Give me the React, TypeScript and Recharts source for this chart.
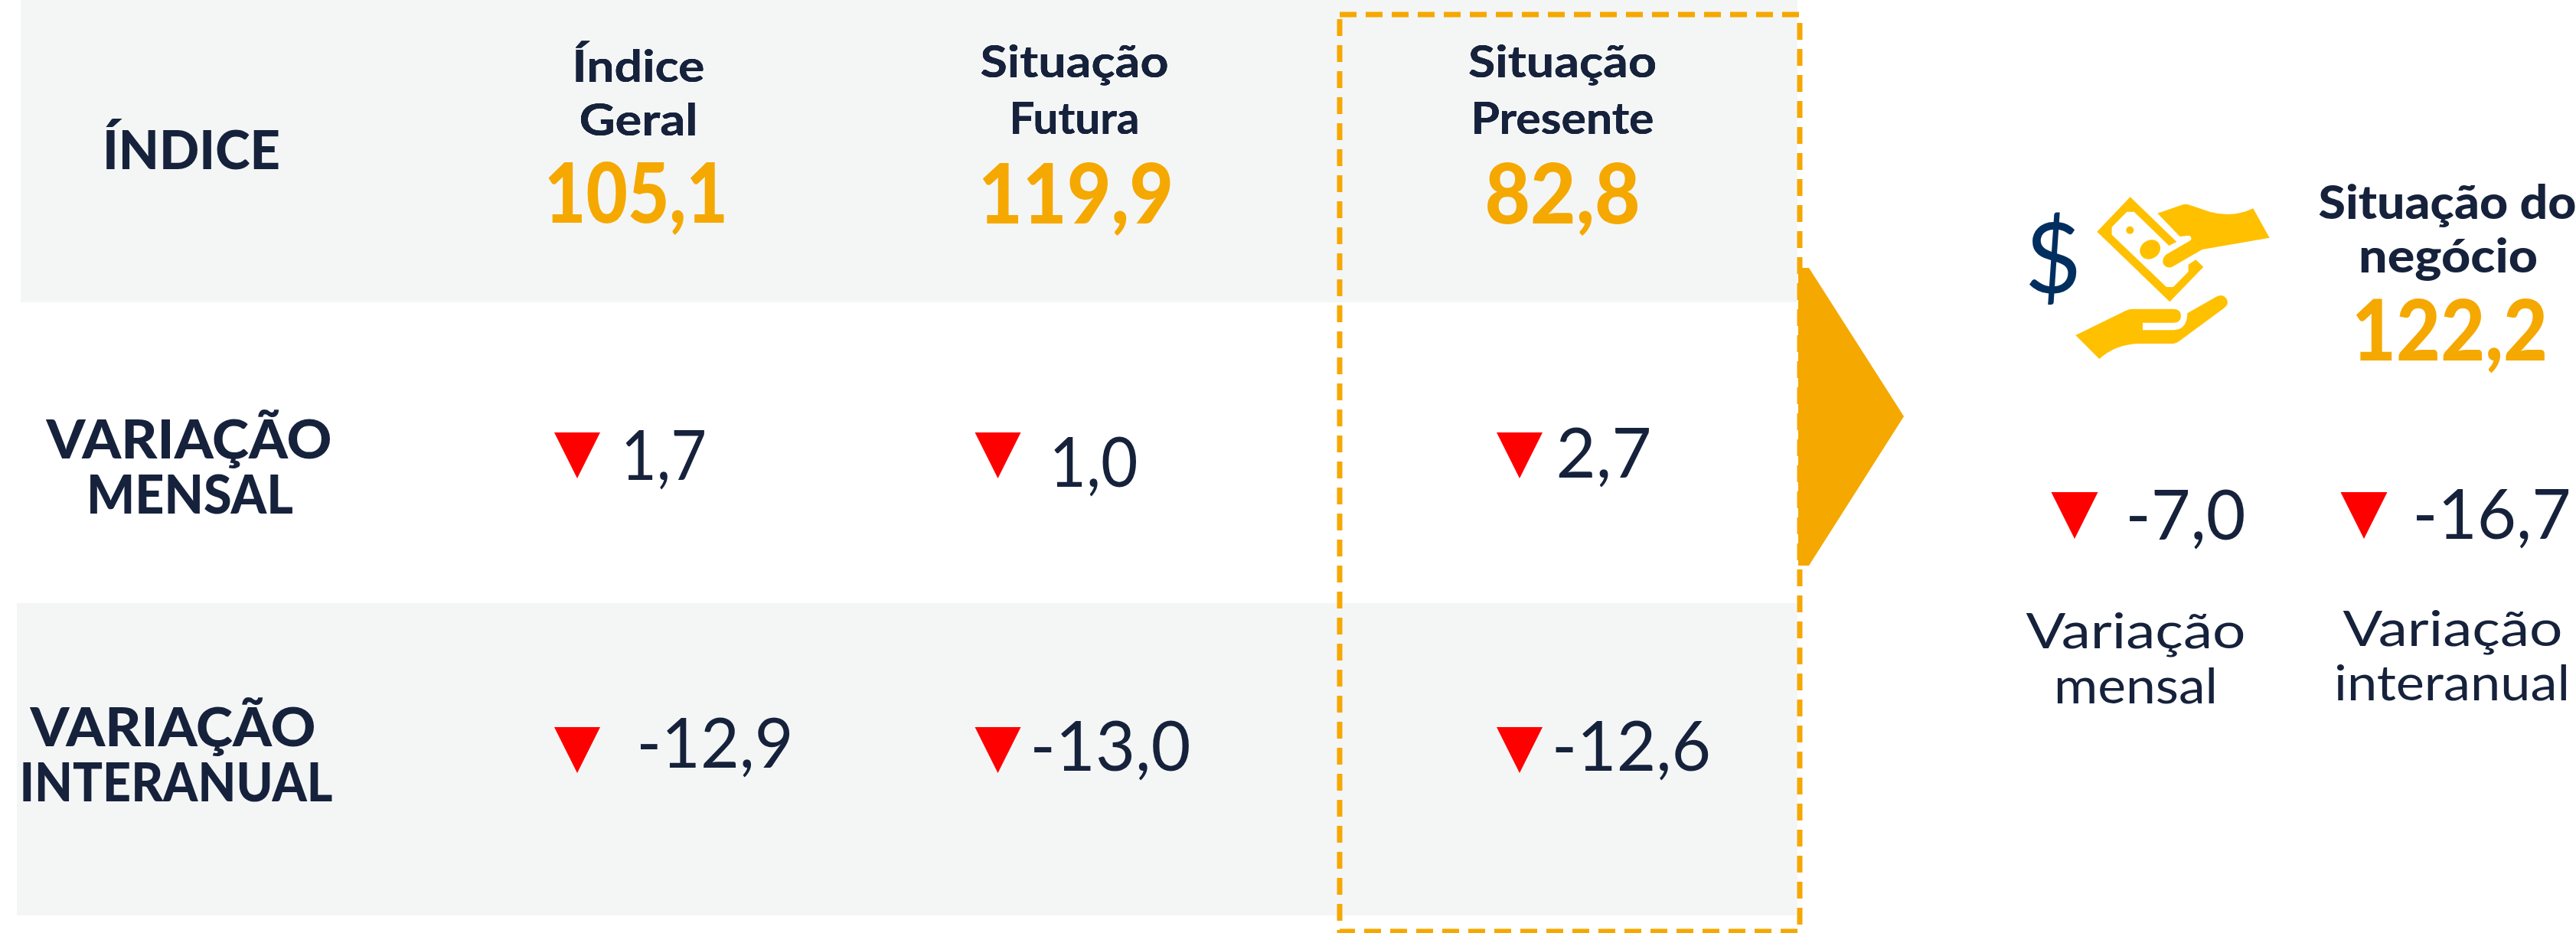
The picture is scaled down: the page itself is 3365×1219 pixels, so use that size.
import { ScatterChart, Scatter, XAxis, YAxis } from 'recharts';

const columnNames = ['Índice Geral', 'Situação Futura', 'Situação Presente'];
const rowNames = ['ÍNDICE', 'VARIAÇÃO MENSAL', 'VARIAÇÃO INTERANUAL'];
const indexValues = [105.1, 119.9, 82.8];
const monthlyValues = [1.7, 1.0, 2.7];
const yearlyValues = [-12.9, -13.0, -12.6];

const sideColumns = ['Variação mensal', 'Variação interanual'];
const sideRows = ['Situação do negócio', 'Variação'];
const sideIndex = [122.2];
const sideChanges = [-7.0, -16.7];

const NAVY = '#16223b';
const AMBER = '#f5a800';
const RED = '#ff0000';
const BAND = '#f4f6f6';
const FONT = 'Lato, sans-serif';

const WIDTH = 3365;
const HEIGHT = 1219;

const fmt = (v: number) => v.toFixed(1).replace('.', ',');

// nudges of the hand placed labels, the source slide is not aligned
const columnNudge = [0, -34, 0];
const headerLines = [
  [{ t: 'Índice', w: 173, y: 107 }, { t: 'Geral', w: 155, y: 177 }],
  [{ t: 'Situação', w: 246, y: 101 }, { t: 'Futura', w: 170, y: 175 }],
  [{ t: 'Situação', w: 246, y: 101 }, { t: 'Presente', w: 239, y: 175 }],
];
const rowLines = [
  [{ t: 'ÍNDICE', w: 232, x: 250, dy: 26 }],
  [{ t: 'VARIAÇÃO', w: 373, x: 247, dy: 9 }, { t: 'MENSAL', w: 270, x: 248, dy: 81 }],
  [{ t: 'VARIAÇÃO', w: 373, x: 226, dy: -10 }, { t: 'INTERANUAL', w: 409, x: 230, dy: 62 }],
];
const indexLayout = [
  { dx: -3, w: 240, dy: 96 },
  { dx: 2, w: 255, dy: 97 },
  { dx: 0, w: 203, dy: 97 },
];
const changeLayout: Record<string, { tri: number; triY: number; dx: number; w: number; dy: number }[]> = {
  'VARIAÇÃO MENSAL': [
    { tri: -80, triY: -25, dx: 33, w: 112, dy: 37 },
    { tri: -100, triY: -25, dx: 25, w: 116, dy: 46 },
    { tri: -56, triY: -25, dx: 54, w: 125, dy: 34 },
  ],
  'VARIAÇÃO INTERANUAL': [
    { tri: -80, triY: -35, dx: 100, w: 205, dy: 18 },
    { tri: -100, triY: -35, dx: 47, w: 210, dy: 22 },
    { tri: -56, triY: -35, dx: 90, w: 208, dy: 22 },
  ],
};
const sideChangeLayout = [
  { tri: -80, dx: 65, w: 157, dy: 25 },
  { tri: -116, dx: 51, w: 207, dy: 24 },
];
const sideCaptions = [
  [{ t: 'Variação', w: 287, dx: 0, y: 847 }, { t: 'mensal', w: 214, dx: 0, y: 919 }],
  [{ t: 'Variação', w: 287, dx: 0, y: 844 }, { t: 'interanual', w: 308, dx: -1, y: 915 }],
];

const mainData = [
  ...columnNames.map((column, i) => ({ column, row: rowNames[0], value: indexValues[i], i })),
  ...columnNames.map((column, i) => ({ column, row: rowNames[1], value: monthlyValues[i], i })),
  ...columnNames.map((column, i) => ({ column, row: rowNames[2], value: yearlyValues[i], i })),
];
const sideData = [
  { column: sideColumns[0], row: sideRows[1], value: sideChanges[0], i: 0 },
  { column: sideColumns[1], row: sideRows[0], value: sideIndex[0], i: 1 },
  { column: sideColumns[1], row: sideRows[1], value: sideChanges[1], i: 1 },
];

function Label({ x, y, t, size, w, weight = 400, fill = NAVY }: any) {
  return (
    <text
      x={x}
      y={y}
      textAnchor="middle"
      fontFamily={FONT}
      fontSize={size}
      fontWeight={weight}
      fill={fill}
      textLength={w}
      lengthAdjust="spacingAndGlyphs"
    >
      {t}
    </text>
  );
}

function Triangle({ cx, top, w, h }: any) {
  return <path d={`M${cx - w / 2},${top}L${cx + w / 2},${top}L${cx},${top + h}Z`} fill={RED} />;
}

function HeaderTick({ x, payload }: any) {
  const i = columnNames.indexOf(payload.value);
  return (
    <g>
      {headerLines[i].map((l) => (
        <Label key={l.t} x={x + columnNudge[i]} y={l.y} t={l.t} w={l.w} size={58} weight={700} />
      ))}
    </g>
  );
}

function RowTick({ y, payload }: any) {
  const lines = rowLines[rowNames.indexOf(payload.value)];
  return (
    <g>
      {lines.map((l) => (
        <Label key={l.t} x={l.x} y={y + l.dy} t={l.t} w={l.w} size={70} weight={900} />
      ))}
    </g>
  );
}

function MainCell({ cx, cy, payload }: any) {
  const { row, value, i } = payload;
  const x = cx + columnNudge[i];
  if (row === rowNames[0]) {
    const l = indexLayout[i];
    return <Label x={x + l.dx} y={cy + l.dy} t={fmt(value)} w={l.w} size={108} weight={900} fill={AMBER} />;
  }
  const l = changeLayout[row][i];
  return (
    <g>
      <Triangle cx={x + l.tri} top={cy + l.triY} w={60} h={60} />
      <Label x={x + l.dx} y={cy + l.dy} t={fmt(value)} w={l.w} size={92} weight={400} />
    </g>
  );
}

function SideCell({ cx, cy, payload }: any) {
  const { row, value, i } = payload;
  if (row === sideRows[0]) {
    return (
      <g>
        <Label x={cx - 7} y={286} t="Situação do" w={337} size={60} weight={900} />
        <Label x={cx - 6} y={356} t="negócio" w={234} size={60} weight={900} />
        <Label x={cx - 4} y={471} t={fmt(value)} w={256} size={110} weight={900} fill={AMBER} />
      </g>
    );
  }
  const l = sideChangeLayout[i];
  return (
    <g>
      <Triangle cx={cx + l.tri} top={cy - 37} w={61} h={61} />
      <Label x={cx + l.dx} y={cy + l.dy} t={fmt(value)} w={l.w} size={92} weight={400} />
      {sideCaptions[i].map((c) => (
        <Label key={c.t} x={cx + c.dx} y={c.y} t={c.t} w={c.w} size={64} weight={400} />
      ))}
    </g>
  );
}

function MoneyIcon() {
  return (
    <g transform="translate(2620,240) scale(0.3333)">
      <text x={186} y={428} textAnchor="middle" fontFamily={FONT} fontSize={385} fontWeight={400} fill="#002f5f">
        $
      </text>
      <path
        fill="#ffc000"
        d="M595,116L690,83Q705,78 720,83L800,110Q890,135 970,97L1034,212L770,258L655,325Q635,335 620,318Q608,298 628,278L725,222Q732,212 720,203L683,207Z"
      />
      <path
        fill="#ffc000"
        d="M488,52L670,228L640,243L503,110L475,110L416,170L416,200L630,405L657,405L716,345L716,317L745,298L775,326L643,463L358,188Z"
      />
      <circle cx={487} cy={182} r={15} fill="#ffc000" />
      <ellipse cx={566} cy={258} rx={42} ry={36} transform="rotate(-35 566 258)" fill="#ffc000" />
      <path
        fill="#ffc000"
        d="M274,594L470,498Q485,491 500,491L655,491Q687,491 687,518Q687,545 655,545L537,545L537,574L660,574Q712,570 712,508L825,443Q850,430 865,450Q878,472 855,488L680,617Q668,627 655,627L520,627Q430,630 367,687Z"
      />
    </g>
  );
}

export default function App() {
  return (
    <div style={{ position: 'absolute', left: 0, top: 0, width: WIDTH, height: HEIGHT, background: '#fff' }}>
      <ScatterChart width={WIDTH} height={HEIGHT} margin={{ top: 0, right: 0, bottom: 0, left: 0 }}>
        <rect x={27} y={0} width={2321} height={395} fill={BAND} />
        <rect x={22} y={788} width={2326} height={408} fill={BAND} />
        <path d="M2349,350L2363,350L2487,544L2363,739L2349,739Z" fill={AMBER} />
        <rect x={1750} y={19} width={601} height={1198} fill="none" stroke={AMBER} strokeWidth={7} strokeDasharray="22 12" />

        <XAxis
          xAxisId="main"
          dataKey="column"
          type="category"
          scale="point"
          allowDuplicatedCategory={false}
          orientation="top"
          height={1}
          axisLine={false}
          tickLine={false}
          interval={0}
          padding={{ left: 833, right: 1324 }}
          tick={<HeaderTick />}
        />
        <YAxis
          yAxisId="main"
          dataKey="row"
          type="category"
          scale="point"
          reversed
          allowDuplicatedCategory={false}
          width={1}
          axisLine={false}
          tickLine={false}
          interval={0}
          padding={{ top: 194, bottom: 234 }}
          tick={<RowTick />}
        />
        <XAxis
          xAxisId="side"
          dataKey="column"
          type="category"
          scale="point"
          allowDuplicatedCategory={false}
          hide
          padding={{ left: 2789, right: 161 }}
        />
        <YAxis
          yAxisId="side"
          dataKey="row"
          type="category"
          scale="point"
          allowDuplicatedCategory={false}
          hide
          padding={{ top: 399, bottom: 539 }}
        />

        <Scatter xAxisId="main" yAxisId="main" data={mainData} shape={<MainCell />} isAnimationActive={false} />
        <Scatter xAxisId="side" yAxisId="side" data={sideData} shape={<SideCell />} isAnimationActive={false} />
        <MoneyIcon />
      </ScatterChart>
    </div>
  );
}
